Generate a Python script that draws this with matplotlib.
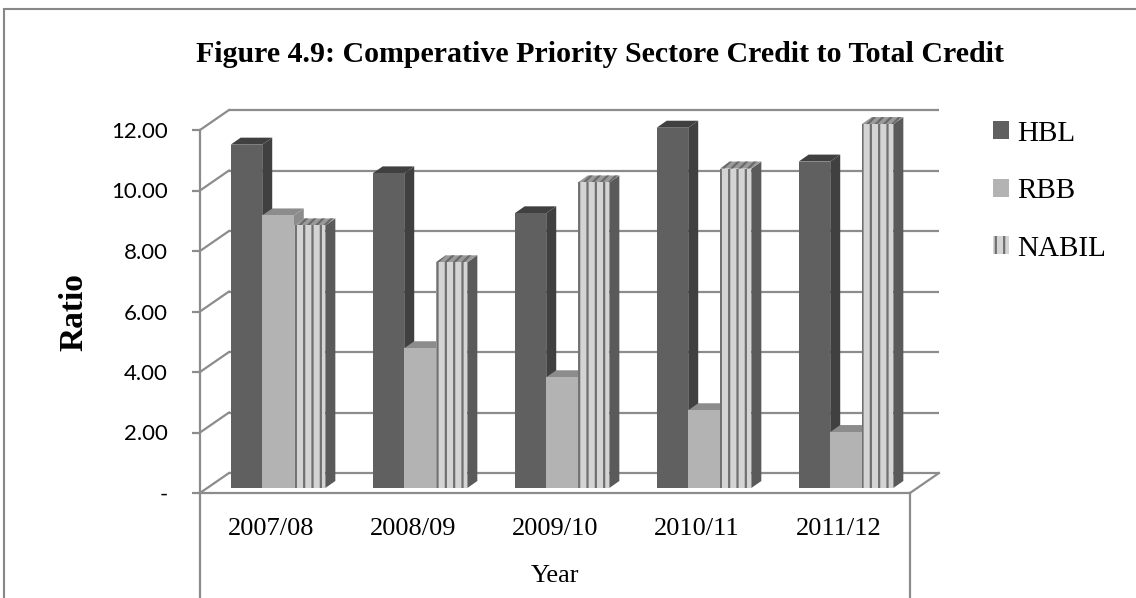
import matplotlib
matplotlib.use("Agg")
import matplotlib.pyplot as plt
import matplotlib.transforms as mtransforms
from matplotlib.patches import Polygon, Rectangle, Patch

# data
years = ['2007/08', '2008/09', '2009/10', '2010/11', '2011/12']
hbl = [11.35, 10.40, 9.08, 11.91, 10.79]
rbb = [9.01, 4.62, 3.66, 2.57, 1.85]
nabil = [8.68, 7.46, 10.10, 10.56, 12.03]
yticks = [0, 2, 4, 6, 8, 10, 12]
ytick_labels = ['-', '2.00', '4.00', '6.00', '8.00', '10.00', '12.00']

series = [
    ('HBL', hbl, dict(front='#606060', top='#404040', side='#404040', hatch=None)),
    ('RBB', rbb, dict(front='#b3b3b3', top='#8c8c8c', side='#8c8c8c', hatch=None)),
    ('NABIL', nabil, dict(front='#d4d4d4', top='#9a9a9a', side='#5a5a5a', hatch='||')),
]

plt.rcParams['hatch.linewidth'] = 1.6
serif = 'Liberation Serif'

W, H = 1136, 598
fig = plt.figure(figsize=(W / 100, H / 100), dpi=100)
ax = fig.add_axes([200 / W, (H - 493) / H, 710 / W, 363 / H])
ax.set_xlim(0, 5)
ax.set_ylim(0, 12)
ax.patch.set_visible(False)

# pixel -> data conversion (axes size is fixed)
pxx = 5 / 710
pxy = 12 / 363

grid_c = '#8c8c8c'
lw = 1.6

# back wall offset (pixels, screen up is +)
back_dx, back_dy = 29, 20
off_back = mtransforms.ScaledTranslation(back_dx / 100, back_dy / 100, fig.dpi_scale_trans)
ax.hlines(yticks, 0, 5, colors=grid_c, lw=lw, transform=ax.transData + off_back,
          clip_on=False, zorder=0.5)
# side wall diagonals
for v in yticks:
    ax.plot([0, back_dx * pxx], [v, v + back_dy * pxy], color=grid_c, lw=lw,
            clip_on=False, zorder=0.5)
# floor right edge
ax.plot([5, 5 + back_dx * pxx], [0, back_dy * pxy], color=grid_c, lw=lw,
        clip_on=False, zorder=0.5)
# vertical lines under the category axis
ax.plot([0, 0], [0, -0.3 * 12], color=grid_c, lw=lw, clip_on=False)
ax.plot([5, 5], [0, -0.3 * 12], color=grid_c, lw=lw, clip_on=False)

# bars sit a little behind the front edge of the floor
off_bar = mtransforms.ScaledTranslation(7 / 100, 5 / 100, fig.dpi_scale_trans)
bw = 0.6667 / 3
ddx, ddy = 10 * pxx, 7 * pxy
for i in range(len(years)):
    x0 = i + 0.5 - 1.5 * bw
    for k, (name, vals, st) in enumerate(series):
        xl = x0 + k * bw
        xr = xl + bw
        v = vals[i]
        side = Polygon([(xr, 0), (xr + ddx, ddy), (xr + ddx, v + ddy), (xr, v)],
                       closed=True, facecolor=st['side'], edgecolor='none',
                       transform=ax.transData + off_bar, clip_on=False, zorder=2)
        top = Polygon([(xl, v), (xl + ddx, v + ddy), (xr + ddx, v + ddy), (xr, v)],
                      closed=True, facecolor=st['top'],
                      edgecolor='#6a6a6a' if st['hatch'] else 'none',
                      hatch='////' if st['hatch'] else None, lw=0,
                      transform=ax.transData + off_bar, clip_on=False, zorder=2)
        front = Rectangle((xl, 0), bw, v, facecolor=st['front'],
                          edgecolor='#707070' if st['hatch'] else 'none',
                          hatch=st['hatch'], lw=0,
                          transform=ax.transData + off_bar, clip_on=False, zorder=2)
        for p in (side, top, front):
            ax.add_patch(p)

handles = [Patch(facecolor=st['front'], edgecolor='#707070' if st['hatch'] else 'none',
                 hatch=st['hatch'], lw=0, label=name) for name, vals, st in series]

# axes styling
for s in ['top', 'right']:
    ax.spines[s].set_visible(False)
for s in ['left', 'bottom']:
    ax.spines[s].set_color(grid_c)
    ax.spines[s].set_linewidth(lw)
ax.set_yticks(yticks)
ax.set_yticklabels(ytick_labels, fontfamily='Lato', fontsize=16)
ax.tick_params(axis='y', length=6, width=lw, color=grid_c, pad=17)
ax.set_xticks([i + 0.5 for i in range(len(years))])
ax.set_xticklabels(years, fontfamily=serif, fontsize=19)
ax.tick_params(axis='x', length=0, pad=18)
ax.set_xlabel('Year', fontfamily=serif, fontsize=19, labelpad=18)

fig.text(74 / W, (H - 312) / H, 'Ratio', rotation=90, ha='center', va='center',
         fontfamily=serif, fontweight='bold', fontsize=24)
fig.text(600 / W, (H - 62) / H, 'Figure 4.9: Comperative Priority Sectore Credit to Total Credit',
         ha='center', va='baseline', fontfamily=serif, fontweight='bold', fontsize=21.5)

fig.legend(handles=handles, loc='upper left', bbox_to_anchor=(978 / W, (H - 106) / H),
           frameon=False, prop={'family': serif, 'size': 21}, borderpad=0,
           handlelength=0.55, handleheight=0.55, handletextpad=0.3, labelspacing=1.08)

# chart border
fig.patches.append(Rectangle((4 / W, -0.1), 1.2, (H - 9) / H + 0.1, transform=fig.transFigure,
                             fill=False, edgecolor='#878787', lw=1.5))

fig.savefig('out.png', dpi=100)
